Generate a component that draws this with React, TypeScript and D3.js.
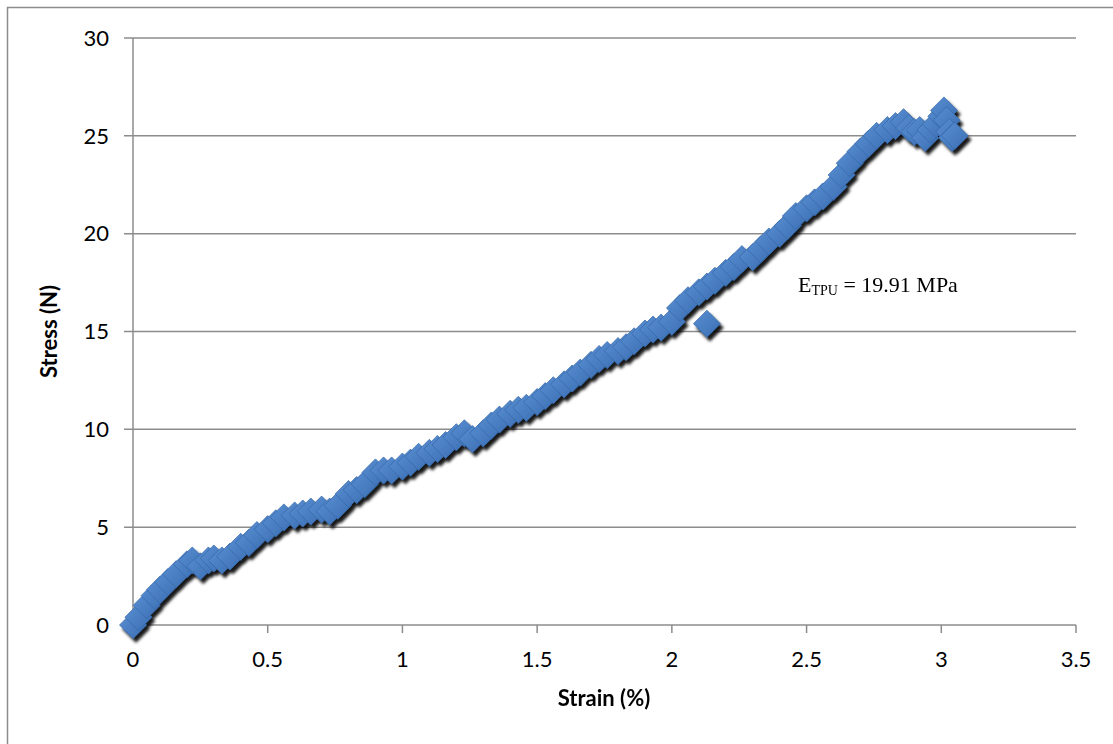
import React from 'react';
import * as d3 from 'd3';

// strain (%) readings along the test
const strain = [
  0.00, 0.02, 0.05, 0.08, 0.10, 0.13, 0.16, 0.20, 0.22, 0.25, 0.28, 0.30, 0.33, 0.36, 0.40,
  0.43, 0.46, 0.50, 0.53, 0.56, 0.60, 0.63, 0.66, 0.70, 0.73, 0.76, 0.80, 0.83, 0.86, 0.90,
  0.93, 0.96, 1.00, 1.03, 1.06, 1.10, 1.13, 1.16, 1.20, 1.23, 1.26, 1.30, 1.33, 1.36, 1.40,
  1.43, 1.46, 1.50, 1.53, 1.56, 1.60, 1.63, 1.66, 1.70, 1.73, 1.76, 1.80, 1.83, 1.86, 1.90,
  1.93, 1.96, 2.00, 2.03, 2.06, 2.10, 2.13, 2.16, 2.20, 2.23, 2.26, 2.30, 2.33, 2.36, 2.40,
  2.43, 2.46, 2.50, 2.53, 2.56, 2.60, 2.63, 2.66, 2.70, 2.73, 2.76, 2.80, 2.83, 2.86, 2.88,
  2.90, 2.92, 2.94, 2.96, 2.98, 3.00, 3.01, 3.02, 3.03, 3.04, 3.05, 2.13,
];

// stress (N) at each strain reading
const stress = [
  0.0, 0.4, 1.0, 1.5, 1.8, 2.2, 2.6, 3.1, 3.3, 3.0, 3.3, 3.4, 3.3, 3.5, 4.0,
  4.2, 4.6, 4.9, 5.2, 5.5, 5.6, 5.7, 5.8, 5.9, 5.8, 6.1, 6.7, 6.9, 7.2, 7.8,
  7.9, 7.9, 8.1, 8.3, 8.6, 8.8, 9.0, 9.2, 9.6, 9.8, 9.5, 9.8, 10.2, 10.5, 10.8,
  11.0, 11.1, 11.4, 11.7, 12.0, 12.3, 12.6, 12.9, 13.3, 13.6, 13.8, 14.0, 14.2, 14.5, 14.9,
  15.1, 15.2, 15.5, 16.2, 16.6, 17.0, 17.3, 17.6, 18.0, 18.3, 18.7, 18.8, 19.2, 19.6, 20.0,
  20.4, 20.9, 21.3, 21.6, 21.9, 22.4, 23.0, 23.6, 24.2, 24.6, 25.0, 25.3, 25.5, 25.7, 25.4,
  25.2, 25.3, 24.9, 25.3, 25.6, 26.0, 26.3, 25.8, 25.2, 24.9, 25.0, 15.4,
];

const xTicks = [0, 0.5, 1, 1.5, 2, 2.5, 3, 3.5];
const yTicks = [0, 5, 10, 15, 20, 25, 30];

const W = 1113;
const H = 744;
const left = 133, right = 1076, top = 38, bottom = 625;
const grid = '#8c8c8c';
const tickFont = 'Lato, "Open Sans", sans-serif';

export default function App() {
  const x = d3.scaleLinear().domain([0, 3.5]).range([left, right]);
  const y = d3.scaleLinear().domain([0, 30]).range([bottom, top]);
  const r = 13.5;
  const diamond = `M0,${-r}L${r},0L0,${r}L${-r},0Z`;

  const points = strain.map((s, i) => ({ s, v: stress[i] }));

  return (
    <svg width={W} height={H} style={{ position: 'absolute', left: 0, top: 0 }}>
      <defs>
        <linearGradient id="mk" x1="0" y1="0" x2="1" y2="1">
          <stop offset="0%" stopColor="#5a8fd2" />
          <stop offset="100%" stopColor="#3a6eb3" />
        </linearGradient>
        <filter id="shadow" x="-10%" y="-10%" width="120%" height="120%">
          <feDropShadow dx="3" dy="4" stdDeviation="1.8" floodColor="#000" floodOpacity="0.9" />
        </filter>
      </defs>
      <rect x={0} y={0} width={W} height={H} fill="#fff" />
      {/* chart frame */}
      <rect x={7.5} y={7.5} width={W + 10} height={H + 10} fill="none" stroke={grid} strokeWidth={1.5} />

      {/* gridlines + y ticks */}
      {yTicks.map(t => (
        <g key={'y' + t}>
          <line x1={left - 9} x2={right} y1={y(t)} y2={y(t)} stroke={grid} strokeWidth={1.5} />
          <text x={109} y={y(t)} dy="0.35em" textAnchor="end" fontFamily={tickFont} fontSize={22} fill="#000">
            {t}
          </text>
        </g>
      ))}
      <line x1={left} x2={left} y1={top} y2={bottom} stroke={grid} strokeWidth={1.5} />
      {xTicks.map(t => (
        <g key={'x' + t}>
          <line x1={x(t)} x2={x(t)} y1={bottom} y2={bottom + 8} stroke={grid} strokeWidth={1.5} />
          <text x={x(t)} y={667} textAnchor="middle" fontFamily={tickFont} fontSize={22} fill="#000">
            {t}
          </text>
        </g>
      ))}

      {/* markers */}
      <g filter="url(#shadow)">
        {points.map((p, i) => (
          <path
            key={i}
            d={diamond}
            transform={`translate(${x(p.s)},${y(p.v)})`}
            fill="url(#mk)"
            stroke="#3567a8"
            strokeWidth={0.7}
          />
        ))}
      </g>

      <text x={798} y={292} fontFamily='"Liberation Serif", "Times New Roman", serif' fontSize={22} fill="#000">
        E<tspan fontSize={14} dy={3}>TPU</tspan><tspan dy={-3}> = 19.91 MPa</tspan>
      </text>

      <text x={604} y={706} textAnchor="middle" fontFamily={tickFont} fontWeight="bold" fontSize={22} fill="#000">
        Strain (%)
      </text>
      <text
        transform={`translate(57,${(top + bottom) / 2}) rotate(-90)`}
        textAnchor="middle"
        fontFamily={tickFont}
        fontWeight="bold"
        fontSize={22}
        fill="#000"
      >
        Stress (N)
      </text>
    </svg>
  );
}
